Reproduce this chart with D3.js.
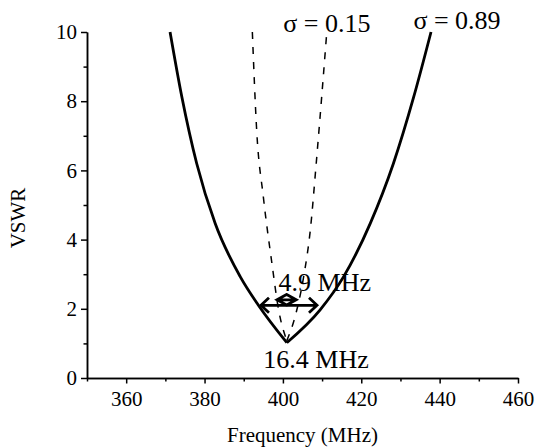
<!DOCTYPE html>
<html>
<head>
<meta charset="utf-8">
<script src="https://cdn.jsdelivr.net/npm/d3@7"></script>
<style>
  body { margin: 0; background: #fff; }
  svg { display: block; }
  svg text { font-family: "Liberation Serif", "Times New Roman", serif; fill: #000; }
  .axis path, .axis line { stroke: #000; stroke-width: 1.5; }
</style>
</head>
<body>
<div id="chart"></div>
<script>
// sigma = 0.89 (solid), left branch then right branch, sharing the minimum
var wideFreq = [371.2, 374.2, 378.0, 382.7, 389.1, 393.7, 401.0, 409.5, 415.5, 422.3, 428.2, 433.4, 437.8];
var wideVswr = [10, 8.13, 6.2, 4.47, 2.93, 2.11, 1.02, 1.97, 2.93, 4.47, 6.2, 8.13, 10];
// sigma = 0.15 (dashed)
var narrowFreq = [392.2, 393.3, 395.0, 397.2, 398.9, 401.0, 403.1, 405.3, 407.0, 408.5, 409.9, 411.2];
var narrowVswr = [10, 7.17, 5.24, 3.31, 1.97, 1.08, 1.77, 2.93, 4.28, 6.2, 8.13, 10];

var xTicks = [360, 380, 400, 420, 440, 460];
var xMinor = [350, 370, 390, 410, 430, 450];
var yTicks = [0, 2, 4, 6, 8, 10];
var yMinor = [1, 3, 5, 7, 9];

// bandwidth arrows: [from, to, vswr]
var bwArrows = [[394.4, 408.7, 2.1], [398.5, 403.4, 2.26]];
var bwHead = [8, 10];
var bwHalf = [7.5, 5.5];

var labels = [
  { text: "\u03c3 = 0.15", f: 400.1, v: 10.0 },
  { text: "\u03c3 = 0.89", f: 433.3, v: 10.1 },
  { text: "4.9 MHz", f: 398.9, v: 2.52 },
  { text: "16.4 MHz", f: 395.0, v: 0.29 }
];

var width = 536, height = 448;
var x = d3.scaleLinear().domain([350, 460]).range([87, 518]);
var y = d3.scaleLinear().domain([0, 10]).range([378, 32]);

var svg = d3.select("#chart").append("svg")
  .attr("width", width)
  .attr("height", height);

svg.append("rect").attr("width", width).attr("height", height).attr("fill", "#fff");

function styleAxis(g) {
  g.attr("font-family", null).attr("font-size", null);
  g.selectAll("text").style("font-size", "21px");
}

// axes
svg.append("g")
  .attr("class", "axis")
  .attr("transform", "translate(0," + y(0) + ")")
  .call(d3.axisBottom(x).tickValues(xMinor).tickSize(3.5).tickSizeOuter(0).tickFormat(""));
svg.append("g")
  .attr("class", "axis")
  .attr("transform", "translate(0," + y(0) + ")")
  .call(d3.axisBottom(x).tickValues(xTicks).tickSize(5.5).tickSizeOuter(0).tickPadding(8).tickFormat(d3.format("d")))
  .call(styleAxis);

svg.append("g")
  .attr("class", "axis")
  .attr("transform", "translate(" + x(350) + ",0)")
  .call(d3.axisLeft(y).tickValues(yMinor).tickSize(3.5).tickSizeOuter(0).tickFormat(""));
svg.append("g")
  .attr("class", "axis")
  .attr("transform", "translate(" + x(350) + ",0)")
  .call(d3.axisLeft(y).tickValues(yTicks).tickSize(6).tickSizeOuter(0).tickPadding(4).tickFormat(d3.format("d")))
  .call(styleAxis);

svg.append("text")
  .attr("x", (x(350) + x(460)) / 2)
  .attr("y", 442)
  .attr("text-anchor", "middle")
  .style("font-size", "21px")
  .text("Frequency (MHz)");

svg.append("text")
  .attr("transform", "translate(25," + 218 + ") rotate(-90)")
  .attr("text-anchor", "middle")
  .style("font-size", "21px")
  .text("VSWR");

// curves: each branch drawn on its own so the minimum stays sharp
var line = d3.line()
  .x(function(d) { return x(d[0]); })
  .y(function(d) { return y(d[1]); })
  .curve(d3.curveMonotoneX);

function branches(fs, vs) {
  var pts = d3.zip(fs, vs);
  var m = d3.minIndex(vs);
  return [pts.slice(0, m + 1), pts.slice(m)];
}

branches(narrowFreq, narrowVswr).forEach(function(b) {
  svg.append("path")
    .datum(b)
    .attr("d", line)
    .attr("fill", "none")
    .attr("stroke", "#000")
    .attr("stroke-width", 1.5)
    .attr("stroke-dasharray", "7,8");
});

branches(wideFreq, wideVswr).forEach(function(b) {
  svg.append("path")
    .datum(b)
    .attr("d", line)
    .attr("fill", "none")
    .attr("stroke", "#000")
    .attr("stroke-width", 2.8);
});

// arrows
bwArrows.forEach(function(a, i) {
  var x1 = x(a[0]), x2 = x(a[1]), yy = y(a[2]);
  var h = bwHead[i], w = bwHalf[i];
  var p = d3.path();
  p.moveTo(x1, yy); p.lineTo(x2, yy);
  p.moveTo(x1 + h, yy - w); p.lineTo(x1, yy); p.lineTo(x1 + h, yy + w);
  p.moveTo(x2 - h, yy - w); p.lineTo(x2, yy); p.lineTo(x2 - h, yy + w);
  svg.append("path")
    .attr("d", p.toString())
    .attr("fill", "none")
    .attr("stroke", "#000")
    .attr("stroke-width", 2.8);
});

svg.selectAll(".note")
  .data(labels)
  .enter()
  .append("text")
  .attr("class", "note")
  .attr("x", function(d) { return x(d.f); })
  .attr("y", function(d) { return y(d.v); })
  .style("font-size", "26px")
  .text(function(d) { return d.text; });
</script>
</body>
</html>
